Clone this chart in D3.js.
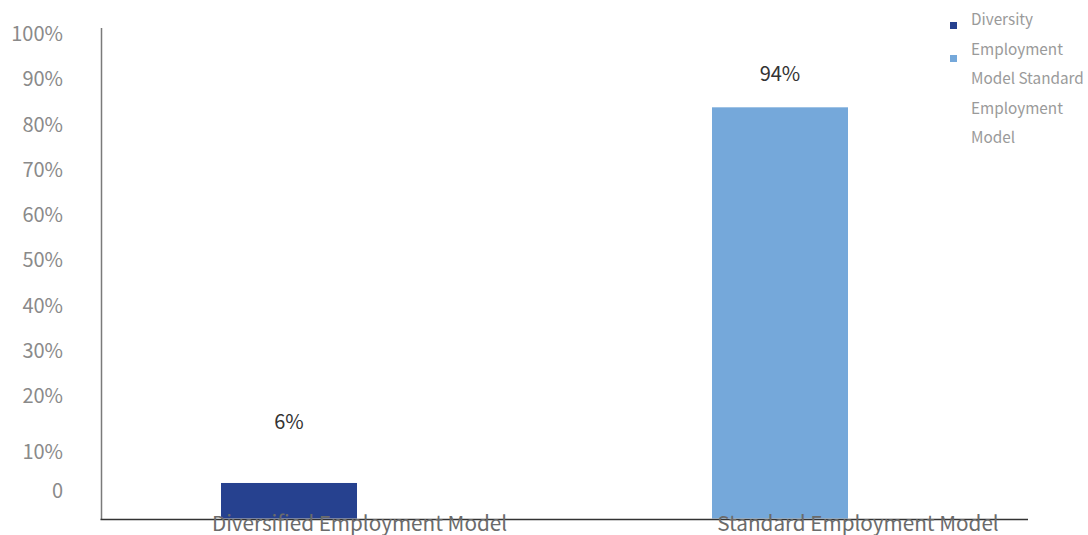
<!DOCTYPE html>
<html>
<head>
<meta charset="utf-8">
<script src="https://cdn.jsdelivr.net/npm/d3@7/dist/d3.min.js"></script>
<style>
  html, body { margin: 0; padding: 0; background: #fff; }
  svg { display: block; font-family: "Noto Sans CJK SC", "Noto Sans", sans-serif; }
</style>
</head>
<body>
<svg id="chart" width="1088" height="535"></svg>
<script>
// Employment model shares
const categories = ["Diversified Employment Model", "Standard Employment Model"];
const seriesNames = ["Diversity Employment Model", "Standard Employment Model"];
const shares = [6, 94];
const colors = ["#26418f", "#75a8da"];
const tickValues = [100, 90, 80, 70, 60, 50, 40, 30, 20, 10, 0];
const tickLabels = ["100%", "90%", "80%", "70%", "60%", "50%", "40%", "30%", "20%", "10%", "0"];

const svg = d3.select("#chart");

const plotLeft = 101.5, plotRight = 1028, baseY = 519.5, axisTop = 28;

// Horizontal placement of the two bars
const x = d3.scaleBand()
  .domain(categories)
  .range([101, 968])
  .paddingInner(0.723)
  .paddingOuter(0.2444);

// Category label placement (labels sit to the right of their bars)
const xLabel = d3.scalePoint()
  .domain(categories)
  .range([359.5, 858]);

// Bar heights
const y = d3.scaleLinear().domain([0, 100]).range([508.6, 81.7]);
// Value label heights
const yLabel = d3.scaleLinear().domain([0, 100]).range([445.7, 50.8]);
// Tick label placement along the value axis
const yTick = d3.scaleLinear().domain([0, 10, 20, 100]).range([491, 452, 396, 34]);

// Value axis line
svg.append("line")
  .attr("x1", plotLeft).attr("x2", plotLeft)
  .attr("y1", axisTop).attr("y2", baseY)
  .attr("stroke", "#7a7a7a").attr("stroke-width", 1.5);

// Tick labels
svg.append("g")
  .selectAll("text")
  .data(tickValues)
  .join("text")
  .attr("x", 63)
  .attr("y", d => yTick(d))
  .attr("dy", "0.35em")
  .attr("text-anchor", "end")
  .attr("font-size", 20)
  .attr("fill", "#8a8a8a")
  .text((d, i) => tickLabels[i]);

// Bars
svg.append("g")
  .selectAll("rect")
  .data(shares)
  .join("rect")
  .attr("x", (d, i) => x(categories[i]))
  .attr("width", x.bandwidth())
  .attr("y", d => y(d))
  .attr("height", d => 518.5 - y(d))
  .attr("fill", (d, i) => colors[i]);

// Value labels
svg.append("g")
  .selectAll("text")
  .data(shares)
  .join("text")
  .attr("x", (d, i) => x(categories[i]) + x.bandwidth() / 2)
  .attr("y", d => yLabel(d))
  .attr("dy", "0.35em")
  .attr("text-anchor", "middle")
  .attr("font-size", 20)
  .attr("fill", "#333")
  .text(d => d + "%");

// Category axis line
svg.append("line")
  .attr("x1", plotLeft - 1).attr("x2", plotRight)
  .attr("y1", baseY).attr("y2", baseY)
  .attr("stroke", "#333").attr("stroke-width", 1.5);

// Category labels
svg.append("g")
  .selectAll("text")
  .data(categories)
  .join("text")
  .attr("x", d => xLabel(d))
  .attr("y", 530.5)
  .attr("text-anchor", "middle")
  .attr("font-size", 20.7)
  .attr("fill", "#6b6b6b")
  .text(d => d);

// Legend: swatches plus a wrapped run of the series names
const legend = svg.append("g");
legend.selectAll("rect")
  .data(seriesNames)
  .join("rect")
  .attr("x", 950)
  .attr("y", (d, i) => 22 + i * 33)
  .attr("width", 7)
  .attr("height", 7)
  .attr("fill", (d, i) => colors[i]);

const words = seriesNames.join(" ").split(" ");
const maxWidth = 120, lineHeight = 29.6;
const legendText = legend.append("text")
  .attr("font-size", 15.3)
  .attr("fill", "#9a9a9a");
let lineIdx = 0, current = [];
let tspan = legendText.append("tspan").attr("x", 971).attr("y", 25);
words.forEach(w => {
  current.push(w);
  tspan.text(current.join(" "));
  if (current.length > 1 && tspan.node().getComputedTextLength() > maxWidth) {
    current.pop();
    tspan.text(current.join(" "));
    current = [w];
    lineIdx++;
    tspan = legendText.append("tspan")
      .attr("x", 971)
      .attr("y", 25 + lineIdx * lineHeight)
      .text(w);
  }
});
</script>
</body>
</html>
